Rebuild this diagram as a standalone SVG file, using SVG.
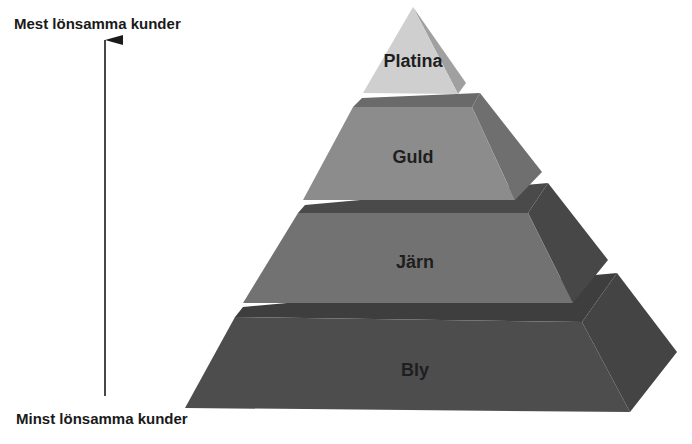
<svg xmlns="http://www.w3.org/2000/svg" width="692" height="444" viewBox="0 0 692 444">
<style>
.ax{font-family:"Liberation Sans",Arial,sans-serif;font-weight:bold;font-size:15px;fill:#1a1a1a}
.lb{font-family:"Liberation Sans",Arial,sans-serif;font-weight:bold;font-size:18px;fill:#1e1e1e;text-anchor:middle}
</style>
<defs><marker id="ah" markerWidth="10" markerHeight="18" refX="5" refY="0" orient="auto" markerUnits="userSpaceOnUse" viewBox="0 0 10 18"><path d="M0,18 L5,0 L10,18 Z" fill="#1a1a1a"/></marker></defs>
<rect width="692" height="444" fill="#fff"/>
<g id="connectors"><line x1="105" y1="396" x2="105" y2="40" stroke="#1a1a1a" stroke-width="1.6" marker-end="url(#ah)"/></g>
<text class="ax" x="14" y="29">Mest lönsamma kunder</text>
<text class="ax" x="16" y="424">Minst lönsamma kunder</text>
<g id="bly">
<polygon points="235,317 243,307 617,273 582,322" fill="#3e3e3e"/>
<polygon points="582,322 617,273 677,352 630,412" fill="#444"/>
<polygon points="185,408 235,317 582,322 630,412" fill="#4d4d4d"/>
<text class="lb" x="415" y="376">Bly</text>
</g>
<g id="jarn">
<polygon points="298,213 305,205 548,183 528,213" fill="#4a4a4a"/>
<polygon points="528,213 548,183 608,260 573,303" fill="#474747"/>
<polygon points="243,303 298,213 528,213 573,303" fill="#727272"/>
<text class="lb" x="415" y="268">Järn</text>
</g>
<g id="guld">
<polygon points="353,107 362,98 480,93 472,107" fill="#6a6a6a"/>
<polygon points="472,107 480,93 542,172 515,200" fill="#6f6f6f"/>
<polygon points="303,200 353,107 472,107 515,200" fill="#8c8c8c"/>
<text class="lb" x="413" y="163">Guld</text>
</g>
<g id="platina">
<polygon points="413,7 466,83 458,94" fill="#a0a0a0"/>
<polygon points="413,7 363,93 458,94" fill="#cfcfcf"/>
<text class="lb" x="413" y="67">Platina</text>
</g>
</svg>
